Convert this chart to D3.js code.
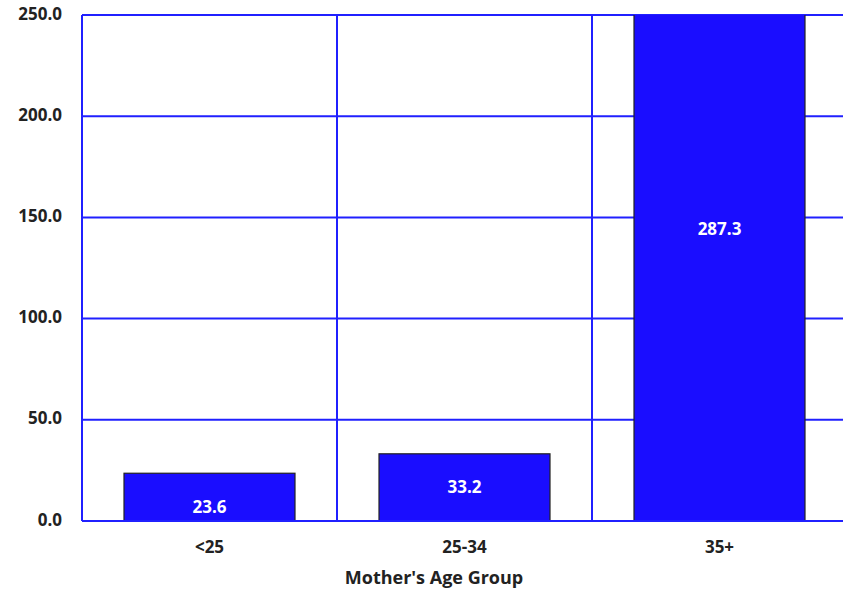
<!DOCTYPE html>
<html>
<head>
<meta charset="utf-8">
<script src="https://cdn.jsdelivr.net/npm/d3@7"></script>
<style>
  body { margin: 0; background: #fff; }
  svg { display: block; font-family: 'Open Sans', 'DejaVu Sans', sans-serif; font-weight: bold; }
</style>
</head>
<body>
<div class="chart"></div>
<script>
const categories = ['<25', '25-34', '35+']
const values = [23.6, 33.2, 287.3]
const yTicks = [0, 50, 100, 150, 200, 250]

const BAR_FILL = '#1a0dff'
const GRID = '#2020ff'
const FONT_SIZE = 17
const width = 843
const height = 595
const margin = {top: 15, right: -4, bottom: 74, left: 82}

const svg = d3.select('.chart').append('svg')
  .attr('width', width)
  .attr('height', height)

const innerW = width - margin.left - margin.right
const innerH = height - margin.top - margin.bottom

const g = svg.append('g')
  .attr('transform', `translate(${margin.left},${margin.top})`)

const x = d3.scaleBand()
  .domain(categories)
  .range([0, innerW])
  .paddingInner(0)
  .paddingOuter(0)

const y = d3.scaleLinear()
  .domain([0, 250])
  .range([innerH, 0])

// horizontal grid
g.selectAll('line.hgrid').data(yTicks).enter().append('line')
  .attr('class', 'hgrid')
  .attr('x1', 0).attr('x2', innerW)
  .attr('y1', d => y(d)).attr('y2', d => y(d))
  .attr('stroke', GRID).attr('stroke-width', 2)

// vertical lines at category boundaries
const bounds = categories.map(c => x(c))
g.selectAll('line.vgrid').data(bounds).enter().append('line')
  .attr('class', 'vgrid')
  .attr('x1', d => d).attr('x2', d => d)
  .attr('y1', 0).attr('y2', innerH)
  .attr('stroke', GRID).attr('stroke-width', 2)

// bars, clipped to the plot
svg.append('clipPath').attr('id', 'plot-clip')
  .append('rect').attr('x', 0).attr('y', 0).attr('width', innerW).attr('height', innerH)

const barPad = 42
g.append('g').attr('clip-path', 'url(#plot-clip)')
  .selectAll('rect.bar').data(values).enter().append('rect')
  .attr('class', 'bar')
  .attr('x', (d, i) => x(categories[i]) + barPad)
  .attr('width', x.bandwidth() - barPad * 2)
  .attr('y', d => y(d))
  .attr('height', d => innerH - y(d))
  .attr('fill', BAR_FILL)
  .attr('stroke', '#222')
  .attr('stroke-width', 1.2)

// redraw baseline over bars
g.append('line')
  .attr('x1', 0).attr('x2', innerW)
  .attr('y1', y(0)).attr('y2', y(0))
  .attr('stroke', GRID).attr('stroke-width', 2)

// data labels
g.selectAll('text.val').data(values).enter().append('text')
  .attr('class', 'val')
  .attr('x', (d, i) => x(categories[i]) + x.bandwidth() / 2)
  .attr('y', d => d > y.domain()[1] ? y(d / 2) : y(d) + 35)
  .attr('text-anchor', 'middle')
  .attr('dominant-baseline', 'middle')
  .attr('fill', '#fff')
  .attr('font-size', FONT_SIZE)
  .text(d => d.toFixed(1))

// y tick labels
g.selectAll('text.ytick').data(yTicks).enter().append('text')
  .attr('class', 'ytick')
  .attr('x', -20)
  .attr('y', d => y(d))
  .attr('text-anchor', 'end')
  .attr('dominant-baseline', 'middle')
  .attr('fill', '#222')
  .attr('font-size', FONT_SIZE)
  .text(d => d.toFixed(1))

// x tick labels
g.selectAll('text.xtick').data(categories).enter().append('text')
  .attr('class', 'xtick')
  .attr('x', d => x(d) + x.bandwidth() / 2)
  .attr('y', innerH + 27)
  .attr('text-anchor', 'middle')
  .attr('dominant-baseline', 'middle')
  .attr('fill', '#222')
  .attr('font-size', FONT_SIZE)
  .text(d => d)

svg.append('text')
  .attr('x', 434)
  .attr('y', 579)
  .attr('text-anchor', 'middle')
  .attr('dominant-baseline', 'middle')
  .attr('fill', '#222')
  .attr('font-size', 18)
  .text("Mother's Age Group")
</script>
</body>
</html>
